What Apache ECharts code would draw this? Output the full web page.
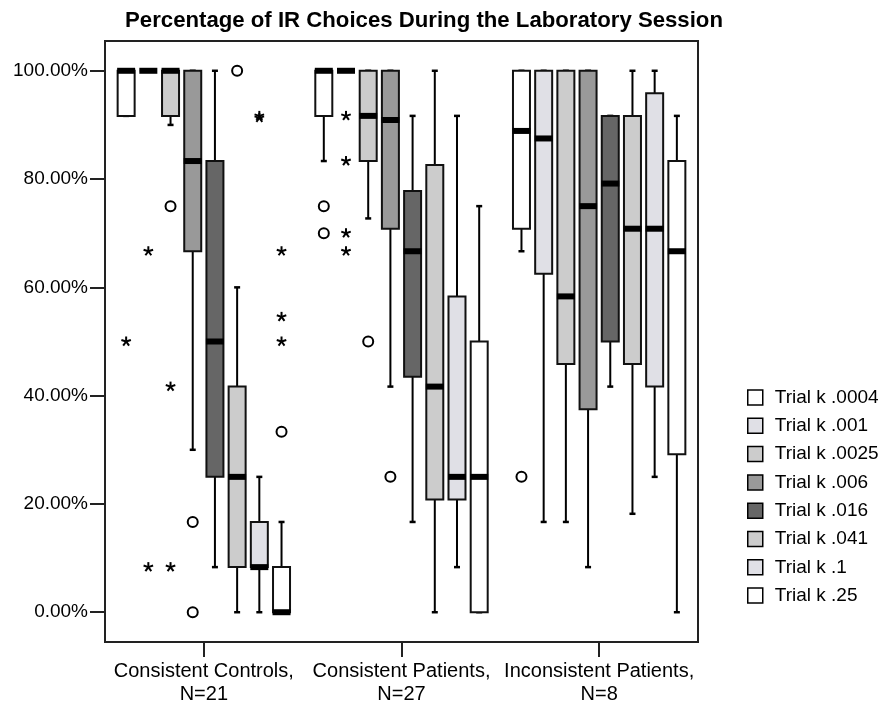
<!DOCTYPE html>
<html>
<head>
<meta charset="utf-8">
<script src="https://cdn.jsdelivr.net/npm/echarts@6/dist/echarts.min.js"></script>
<style>
html,body{margin:0;padding:0;background:#fff;}
#chart{width:882px;height:708px;}
</style>
</head>
<body>
<div id="chart"></div>
<script>
// ---- DATA ----
const categories = ['Consistent Controls,\nN=21', 'Consistent Patients,\nN=27', 'Inconsistent Patients,\nN=8'];
const trials = ['Trial k .0004', 'Trial k .001', 'Trial k .0025', 'Trial k .006', 'Trial k .016', 'Trial k .041', 'Trial k .1', 'Trial k .25'];
const yTicks = [0, 20, 40, 60, 80, 100];

// box stats per group: [min, q1, median, q3, max]
const k0004 = [[91.67, 91.67, 100, 100, 100], [83.33, 91.67, 100, 100, 100], [66.67, 70.83, 88.89, 100, 100]];
const k001  = [[100, 100, 100, 100, 100], [100, 100, 100, 100, 100], [16.67, 62.5, 87.5, 100, 100]];
const k0025 = [[90, 91.67, 100, 100, 100], [72.73, 83.33, 91.67, 100, 100], [16.67, 45.83, 58.33, 100, 100]];
const k006  = [[30, 66.67, 83.33, 100, 100], [41.67, 70.83, 90.91, 100, 100], [8.33, 37.5, 75, 100, 100]];
const k016  = [[8.33, 25, 50, 83.33, 100], [16.67, 43.5, 66.67, 77.78, 91.67], [41.67, 50, 79.17, 91.67, 91.67]];
const k041  = [[0, 8.33, 25, 41.67, 60], [0, 20.83, 41.67, 82.6, 100], [18.18, 45.83, 70.83, 91.67, 100]];
const k1    = [[0, 8.33, 8.33, 16.67, 25], [8.33, 20.83, 25, 58.33, 91.67], [25, 41.67, 70.83, 95.83, 100]];
const k25   = [[0, 0, 0, 8.33, 16.67], [0, 0, 25, 50, 75], [0, 29.17, 66.67, 83.33, 91.67]];

// outliers: [groupIndex, trialIndex, value]
const circles = [
  [1, 0, 75], [1, 0, 70], [2, 0, 25],
  [0, 2, 75], [1, 2, 50],
  [0, 3, 16.67], [0, 3, 0], [1, 3, 25],
  [0, 5, 100],
  [0, 7, 33.33]
];
const stars = [
  [0, 0, 50],
  [0, 1, 66.67], [0, 1, 8.33],
  [1, 1, 91.67], [1, 1, 83.33], [1, 1, 70], [1, 1, 66.67],
  [0, 2, 41.67], [0, 2, 8.33],
  [0, 6, 91.67], [0, 6, 91.3],
  [0, 7, 66.67], [0, 7, 54.55], [0, 7, 50]
];

const boxData = [k0004, k001, k0025, k006, k016, k041, k1, k25];
const fills = ['#ffffff', '#e0e0e6', '#cccccc', '#999999', '#666666', '#cccccc', '#e0e0e6', '#ffffff'];

// ---- STYLE CONSTANTS ----
const FONT = '"Liberation Sans", Arial, Helvetica, sans-serif';
const PITCH = 0.1123;  // box spacing as fraction of band
const BOXW = 0.086;    // box width as fraction of band
const INK = '#000';

function boxSeries(ti) {
  return {
    type: 'custom',
    name: trials[ti],
    itemStyle: { color: fills[ti], borderColor: INK, borderWidth: 1.5 },
    encode: { x: 0, y: [1, 2, 3, 4, 5] },
    data: boxData[ti].map((s, g) => [g].concat(s)),
    renderItem: function (params, api) {
      const g = api.value(0);
      const band = api.size([1, 0])[0];
      const off = (ti - 3.5) * band * PITCH;
      const w = band * BOXW;
      const cx = api.coord([g, 0])[0] + off;
      const y = v => api.coord([g, v])[1];
      const mn = y(api.value(1)), q1 = y(api.value(2)), md = y(api.value(3)), q3 = y(api.value(4)), mx = y(api.value(5));
      const capW = 3;
      return {
        type: 'group',
        children: [
          { type: 'line', shape: { x1: cx, y1: mn, x2: cx, y2: mx }, style: { stroke: INK, lineWidth: 2 } },
          { type: 'line', shape: { x1: cx - capW, y1: mn, x2: cx + capW, y2: mn }, style: { stroke: INK, lineWidth: 2.5 } },
          { type: 'line', shape: { x1: cx - capW, y1: mx, x2: cx + capW, y2: mx }, style: { stroke: INK, lineWidth: 2.5 } },
          { type: 'rect', shape: { x: cx - w / 2, y: q3, width: w, height: q1 - q3 }, style: { fill: fills[ti], stroke: '#111', lineWidth: 2 } },
          { type: 'rect', shape: { x: cx - w / 2 - 0.5, y: md - 3, width: w + 1, height: 6 }, style: { fill: INK } }
        ]
      };
    }
  };
}

function outlierSeries(list, kind) {
  return {
    type: 'custom',
    name: kind,
    silent: true,
    encode: { x: 0, y: 2 },
    data: list,
    renderItem: function (params, api) {
      const g = api.value(0), ti = api.value(1), v = api.value(2);
      const band = api.size([1, 0])[0];
      const off = (ti - 3.5) * band * PITCH;
      const p = api.coord([g, v]);
      const cx = p[0] + off, cy = p[1];
      if (kind === 'circle') {
        return { type: 'circle', shape: { cx: cx, cy: cy, r: 5 }, style: { fill: 'none', stroke: INK, lineWidth: 2 } };
      }
      const r = 5;
      const arms = [];
      for (let k = 0; k < 5; k++) {
        const a = -Math.PI / 2 + k * 2 * Math.PI / 5;
        arms.push({ type: 'line', shape: { x1: cx, y1: cy, x2: cx + r * Math.cos(a), y2: cy + r * Math.sin(a) }, style: { stroke: INK, lineWidth: 2 } });
      }
      return { type: 'group', children: arms };
    }
  };
}

const chart = echarts.init(document.getElementById('chart'), null, { renderer: 'canvas' });
chart.setOption({
  backgroundColor: '#fff',
  animation: false,
  title: {
    text: 'Percentage of IR Choices During the Laboratory Session',
    left: 419, top: 5, textAlign: 'center',
    textStyle: { fontFamily: FONT, fontWeight: 'bold', fontSize: 22.2, color: '#000' }
  },
  legend: {
    orient: 'vertical', left: 742, top: 383, itemWidth: 15, itemHeight: 15, itemGap: 9.3,
    icon: 'rect',
    data: trials.map((t, i) => ({ name: t, itemStyle: { color: fills[i], borderColor: INK, borderWidth: 1.5 } })),
    textStyle: { fontFamily: FONT, fontSize: 19, color: '#000', padding: [0, 0, 0, 7] },
    selectedMode: false
  },
  grid: { left: 105, right: 184, top: 41, bottom: 66, show: true, borderColor: '#222', borderWidth: 2, containLabel: false },
  xAxis: {
    type: 'category', data: categories, boundaryGap: true,
    axisLine: { show: true, onZero: false, lineStyle: { color: '#222', width: 2 } },
    axisTick: { show: true, interval: 0, alignWithLabel: true, inside: false, length: 15, lineStyle: { color: '#222', width: 2 } },
    axisLabel: { interval: 0, fontFamily: FONT, fontSize: 20, color: '#000', margin: 18, lineHeight: 23 },
    splitLine: { show: false }
  },
  yAxis: {
    type: 'value', min: -5.5, max: 105.5,
    axisLine: { show: true, onZero: false, lineStyle: { color: '#222', width: 2 } },
    axisTick: { show: true, length: 15, customValues: yTicks, lineStyle: { color: '#222', width: 2 } },
    axisLabel: { customValues: yTicks, fontFamily: FONT, fontSize: 19, color: '#000', margin: 17, formatter: v => v.toFixed(2) + '%' },
    splitLine: { show: false }
  },
  series: trials.map((t, i) => boxSeries(i)).concat([outlierSeries(circles, 'circle'), outlierSeries(stars, 'star')])
});
</script>
</body>
</html>
